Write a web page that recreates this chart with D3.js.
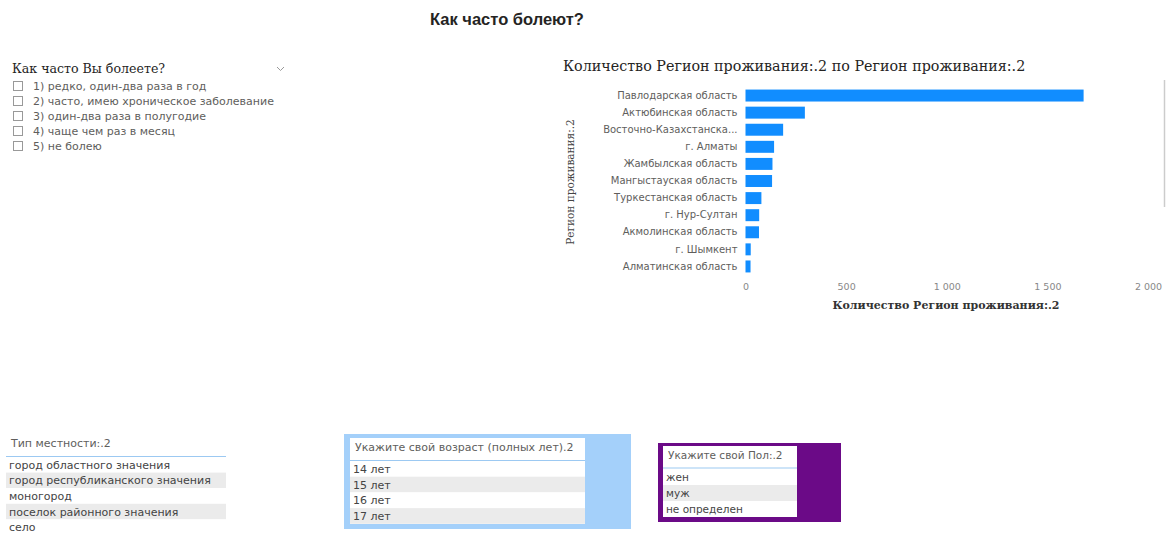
<!DOCTYPE html>
<html>
<head>
<meta charset="utf-8">
<script src="https://cdn.jsdelivr.net/npm/d3@7/dist/d3.min.js"></script>
<style>
  html, body { margin: 0; padding: 0; background: #fff; }
  svg { display: block; }
</style>
</head>
<body>
<svg id="c" width="1166" height="533"></svg>
<script>
// ---- data ----
const pageTitle = "Как часто болеют?";
const sickQuestion = "Как часто Вы болеете?";
const sickOptions = [
  "1) редко, один-два раза в год",
  "2) часто, имею хроническое заболевание",
  "3) один-два раза в полугодие",
  "4) чаще чем раз в месяц",
  "5) не болею"
];
const chartTitle = "Количество Регион проживания:.2 по Регион проживания:.2";
const xAxisTitle = "Количество Регион проживания:.2";
const yAxisTitle = "Регион проживания:.2";
const regions = [
  "Павлодарская область",
  "Актюбинская область",
  "Восточно-Казахстанская область",
  "г. Алматы",
  "Жамбылская область",
  "Мангыстауская область",
  "Туркестанская область",
  "г. Нур-Султан",
  "Акмолинская область",
  "г. Шымкент",
  "Алматинская область"
];
const counts = [1680, 295, 187, 142, 134, 132, 79, 68, 67, 26, 25];
const xTicks = [0, 500, 1000, 1500, 2000];

const localityTitle = "Тип местности:.2";
const localityItems = [
  "город областного значения",
  "город республиканского значения",
  "моногород",
  "поселок районного значения",
  "село"
];
const ageTitle = "Укажите свой возраст (полных лет).2";
const ageItems = ["14 лет", "15 лет", "16 лет", "17 лет"];
const genderTitle = "Укажите свой Пол:.2";
const genderItems = ["жен", "муж", "не определен"];

// ---- drawing ----
const svg = d3.select("#c");
const sans = "'DejaVu Sans', 'Noto Sans', sans-serif";
const serif = "'DejaVu Serif', serif";
const grayText = "#605E5C";

// Page title
svg.append("text").attr("x", 507).attr("y", 25)
  .attr("text-anchor", "middle")
  .attr("font-family", "'Liberation Sans', Arial, sans-serif")
  .attr("font-weight", "bold").attr("font-size", 16.5).attr("fill", "#252423")
  .text(pageTitle);

// Slicer: how often sick
const sl = svg.append("g");
sl.append("text").attr("x", 12).attr("y", 73)
  .attr("font-family", serif).attr("font-size", 12.6).attr("fill", "#252423")
  .text(sickQuestion);
sl.append("path").attr("d", "M277,67 l3.5,3.5 l3.5,-3.5")
  .attr("fill", "none").attr("stroke", "#999").attr("stroke-width", 1);
const sy = d3.scalePoint().domain(sickOptions).range([86, 146]);
const opt = sl.selectAll("g.opt").data(sickOptions).join("g").attr("class", "opt")
  .attr("transform", d => `translate(0,${sy(d)})`);
opt.append("rect").attr("x", 13.5).attr("y", -4.5).attr("width", 9).attr("height", 9)
  .attr("fill", "#fff").attr("stroke", "#999").attr("stroke-width", 1);
opt.append("text").attr("x", 33).attr("y", 4)
  .attr("font-family", sans).attr("font-size", 11).attr("fill", grayText)
  .text(d => d);

// Bar chart
svg.append("text").attr("x", 563).attr("y", 71)
  .attr("font-family", serif).attr("font-size", 14.3).attr("fill", "#252423")
  .text(chartTitle);

const x = d3.scaleLinear().domain([0, 2000]).range([745.5, 1148]);
const y = d3.scaleBand().domain(regions).range([87, 275]).paddingInner(0.3).paddingOuter(0.15);

const trunc = s => s.length > 23 ? s.slice(0, 21) + "..." : s;

svg.append("g").selectAll("rect").data(regions).join("rect")
  .attr("x", x(0)).attr("y", d => y(d))
  .attr("width", (d, i) => x(counts[i]) - x(0))
  .attr("height", y.bandwidth())
  .attr("fill", "#118DFF");

const yAxis = svg.append("g").attr("transform", `translate(${x(0) - 8},0)`)
  .call(d3.axisLeft(y).tickSize(0).tickPadding(0).tickFormat(trunc));
yAxis.select(".domain").remove();
yAxis.selectAll("text").attr("font-family", sans).attr("font-size", 10).attr("fill", grayText);

const fmt = v => d3.format(",")(v).replace(/,/g, " ");
const xAxis = svg.append("g").attr("transform", `translate(0,283)`)
  .call(d3.axisBottom(x).tickValues(xTicks).tickSize(0).tickPadding(0).tickFormat(fmt));
xAxis.select(".domain").remove();
xAxis.selectAll("text").attr("font-family", sans).attr("font-size", 9.5).attr("fill", "#888");

svg.append("text").attr("x", 946).attr("y", 309).attr("text-anchor", "middle")
  .attr("font-family", serif).attr("font-weight", "bold").attr("font-size", 11).attr("fill", "#333")
  .text(xAxisTitle);
svg.append("text").attr("transform", "translate(574,182) rotate(-90)").attr("text-anchor", "middle")
  .attr("font-family", serif).attr("font-size", 10.5).attr("fill", "#444")
  .text(yAxisTitle);

// faint scrollbar
svg.append("line").attr("x1", 1164.5).attr("x2", 1164.5).attr("y1", 80).attr("y2", 207)
  .attr("stroke", "#ccc").attr("stroke-width", 1.5);

// Table helper
function table(g, title, items, opts) {
  const { x0, w, titleY, lineY, rowTop, rowH, fs } = opts;
  g.append("text").attr("x", x0 + 5).attr("y", titleY + 4)
    .attr("font-family", sans).attr("font-size", fs).attr("fill", grayText).text(title);
  g.append("line").attr("x1", x0).attr("x2", x0 + w).attr("y1", lineY).attr("y2", lineY)
    .attr("stroke", "#9CC9F2").attr("stroke-width", 1.2);
  const ry = d3.scaleBand().domain(items).range([rowTop, rowTop + rowH * items.length]);
  const r = g.selectAll("g.row").data(items).join("g").attr("class", "row");
  r.append("rect").attr("x", x0).attr("y", d => ry(d)).attr("width", w).attr("height", ry.bandwidth())
    .attr("fill", (d, i) => i % 2 ? "#EBEBEB" : "#fff");
  r.append("text").attr("x", x0 + 3).attr("y", d => ry(d) + ry.bandwidth() / 2 + 4)
    .attr("font-family", sans).attr("font-size", fs).attr("fill", "#444").text(d => d);
}

// Locality table
const lg = svg.append("g");
table(lg, localityTitle, localityItems, { x0: 6, w: 220, titleY: 443, lineY: 456.5, rowTop: 457, rowH: 15.6, fs: 11 });

// Age table
const ag = svg.append("g");
ag.append("rect").attr("x", 344).attr("y", 434).attr("width", 287).attr("height", 95).attr("fill", "#A4D0FA");
ag.append("rect").attr("x", 350).attr("y", 438).attr("width", 235).attr("height", 86).attr("fill", "#fff");
table(ag, ageTitle, ageItems, { x0: 350, w: 235, titleY: 447, lineY: 460.5, rowTop: 461, rowH: 15.7, fs: 11 });

// Gender table
const gg = svg.append("g");
gg.append("rect").attr("x", 658).attr("y", 443).attr("width", 183).attr("height", 79).attr("fill", "#6B0A87");
gg.append("rect").attr("x", 663).attr("y", 446).attr("width", 134).attr("height", 71).attr("fill", "#fff");
table(gg, genderTitle, genderItems, { x0: 663, w: 134, titleY: 455, lineY: 468, rowTop: 469, rowH: 16, fs: 10.5 });
</script>
</body>
</html>
